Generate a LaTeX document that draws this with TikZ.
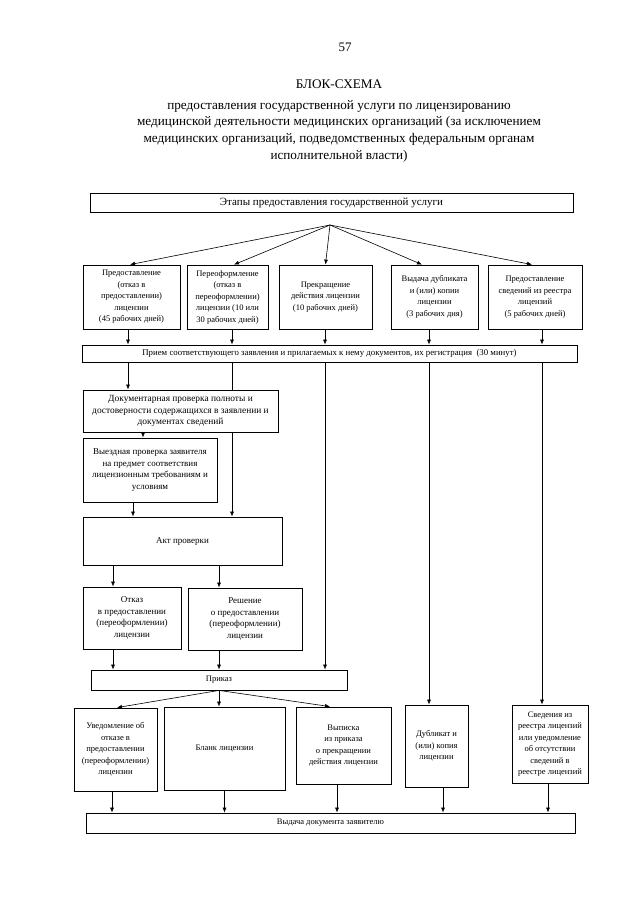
\documentclass[tikz,border=0pt]{standalone}
\usepackage{fontspec}
\setmainfont{Liberation Serif}
\usetikzlibrary{positioning,arrows.meta}

\begin{document}
\begin{tikzpicture}[x=1pt,y=-1pt,
    box/.style={draw, line width=0.8pt, align=center, inner sep=1pt,
      font=\fontsize{8.5}{11.5}\selectfont},
    big/.style={font=\fontsize{9}{11.5}\selectfont},
    arr/.style={-{Latex[length=5pt,width=4pt]}, line width=0.6pt},
    ln/.style={line width=0.6pt}]
  \useasboundingbox (0,0) rectangle (640,905);

  % heading
  \node (page) at (345,47) {\fontsize{13}{16}\selectfont 57};
  \node[align=center, font=\fontsize{13.2}{16.8}\selectfont] (title) at (339,121)
    {БЛОК-СХЕМА\\[4pt]
     предоставления государственной услуги по лицензированию\\
     медицинской деятельности медицинских организаций (за исключением\\
     медицинских организаций, подведомственных федеральным органам\\
     исполнительной власти)};

  % columns of the long connectors
  \coordinate (c1) at (128,0);
  \coordinate (c2) at (232,0);
  \coordinate (c3) at (325,0);
  \coordinate (c4) at (429,0);
  \coordinate (c5) at (542,0);

  % stages
  \node[box, minimum width=483, minimum height=19, font=\fontsize{11}{12}\selectfont]
    (top) at (331.5,202.5) {Этапы предоставления государственной услуги};
  \coordinate (apex) at (330,225);

  \node[box, minimum width=97, minimum height=64] (s1) at (131.5,297)
    {Предоставление\\(отказ в\\предоставлении)\\лицензии\\(45 рабочих дней)};
  \node[box, minimum width=81, minimum height=64] (s2) at (227.5,297)
    {Переоформление\\(отказ в\\переоформлении)\\лицензии (10 или\\30 рабочих дней)};
  \node[box, minimum width=93, minimum height=64] (s3) at (325.5,297)
    {Прекращение\\действия лицензии\\(10 рабочих дней)};
  \node[box, minimum width=87, minimum height=64] (s4) at (434.5,297)
    {Выдача дубликата\\и (или) копии\\лицензии\\(3 рабочих дня)};
  \node[box, minimum width=94, minimum height=64] (s5) at (535,297)
    {Предоставление\\сведений из реестра\\лицензий\\(5 рабочих дней)};

  \draw[arr] (apex) -- ([xshift=-1.5pt]s1.north);
  \draw[arr] (apex) -- ([xshift=6.5pt]s2.north);
  \draw[arr] (apex) -- (s3.north);
  \draw[arr] (apex) -- ([xshift=-12.5pt]s4.north);
  \draw[arr] (apex) -- ([xshift=-3pt]s5.north);

  % registration
  \node[box, minimum width=495, minimum height=17, font=\fontsize{8.8}{9}\selectfont]
    (reg) at (329.5,353.5)
    {Прием соответствующего заявления и прилагаемых к нему документов, их регистрация\ \ (30 минут)};
  \foreach \c/\s in {c1/s1,c2/s2,c3/s3,c4/s4,c5/s5}
    \draw[arr] (\s.south -| \c) -- (reg.north -| \c);

  % checks
  \node[box, minimum width=195, minimum height=42, font=\fontsize{9.4}{11.5}\selectfont]
    (doc) at (180.5,411)
    {Документарная проверка  полноты и\\достоверности содержащихся в заявлении и\\документах сведений};
  \node[box, big, minimum width=134, minimum height=64] (site) at (150,470)
    {Выездная проверка заявителя\\на предмет соответствия\\лицензионным требованиям и\\условиям};
  \node[box, big, minimum width=199, minimum height=48] (act) at (182.5,541)
    {Акт проверки};
  \coordinate (c6) at (143,0);
  \coordinate (c7) at (133,0);

  \draw[arr] (reg.south -| c1) -- (doc.north -| c1);
  \draw[ln] (reg.south -| c2) -- (doc.north -| c2);
  \draw[arr] (doc.south -| c6) -- (site.north -| c6);
  \draw[arr] (doc.south -| c2) -- (act.north -| c2);
  \draw[arr] (site.south -| c7) -- (act.north -| c7);

  % decision
  \node[box, big, minimum width=98, minimum height=62] (refuse) at (132,618)
    {Отказ\\в предоставлении\\(переоформлении)\\лицензии};
  \node[box, big, minimum width=114, minimum height=62] (grant) at (245,619)
    {Решение\\о предоставлении\\(переоформлении)\\лицензии};
  \node[box, minimum width=256, minimum height=20] (order) at (219,680)
    {Приказ};
  \coordinate (c8) at (113,0);
  \coordinate (c9) at (219,0);

  \draw[arr] (act.south -| c8) -- (refuse.north -| c8);
  \draw[arr] (act.south -| c9) -- (grant.north -| c9);
  \draw[arr] (refuse.south -| c8) -- (order.north -| c8);
  \draw[arr] (grant.south -| c9) -- (order.north -| c9);
  \draw[arr] (reg.south -| c3) -- (order.north -| c3);

  % results
  \node[box, minimum width=83, minimum height=83] (notice) at (115.5,749.5)
    {Уведомление об\\отказе в\\предоставлении\\(переоформлении)\\лицензии};
  \node[box, minimum width=121, minimum height=83] (blank) at (224.5,748.5)
    {Бланк лицензии};
  \node[box, minimum width=95, minimum height=77] (extract) at (343.5,745.5)
    {Выписка\\из приказа\\о прекращении\\действия лицензии};
  \node[box, minimum width=63, minimum height=82] (dup) at (436.5,746)
    {Дубликат и\\(или) копия\\лицензии};
  \node[box, minimum width=76, minimum height=78] (info) at (550,744)
    {Сведения из\\реестра лицензий\\или уведомление\\об отсутствии\\сведений в\\реестре лицензий};

  \draw[arr] (order.south) -- ([xshift=1.5pt]notice.north);
  \draw[arr] (order.south) -- (blank.north -| order.south);
  \draw[arr] (order.south) -- ([xshift=-13.5pt]extract.north);
  \draw[arr] (reg.south -| c4) -- (dup.north -| c4);
  \draw[arr] (reg.south -| c5) -- (info.north -| c5);

  % issue
  \node[box, minimum width=489, minimum height=20] (issue) at (330.5,823)
    {Выдача документа заявителю};
  \draw[arr] ([xshift=-3.5pt]notice.south) -- ([xshift=-3.5pt]notice.south |- issue.north);
  \draw[arr] (blank.south) -- (blank.south |- issue.north);
  \draw[arr] ([xshift=-6.5pt]extract.south) -- ([xshift=-6.5pt]extract.south |- issue.north);
  \draw[arr] ([xshift=6.5pt]dup.south) -- ([xshift=6.5pt]dup.south |- issue.north);
  \draw[arr] ([xshift=-2pt]info.south) -- ([xshift=-2pt]info.south |- issue.north);
\end{tikzpicture}
\end{document}
